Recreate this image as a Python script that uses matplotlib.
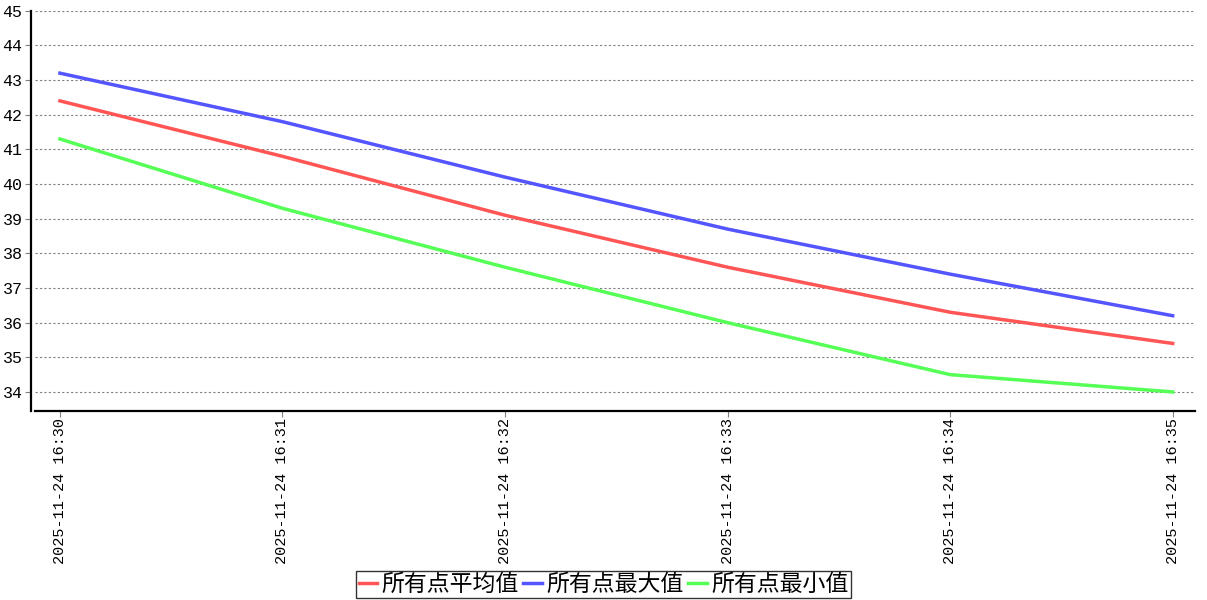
import matplotlib
matplotlib.use("Agg")
import matplotlib.pyplot as plt

plt.rcParams['font.family'] = ['Liberation Mono', 'Noto Sans CJK SC', 'DejaVu Sans']

times = ['2025-11-24 16:30', '2025-11-24 16:31', '2025-11-24 16:32',
         '2025-11-24 16:33', '2025-11-24 16:34', '2025-11-24 16:35']
avg_vals = [42.4, 40.8, 39.1, 37.6, 36.3, 35.4]
max_vals = [43.2, 41.8, 40.2, 38.7, 37.4, 36.2]
min_vals = [41.3, 39.3, 37.6, 36.0, 34.5, 34.0]
names = ['所有点平均值', '所有点最大值', '所有点最小值']
colors = ['#ff5555', '#5555ff', '#55ff55']

fig = plt.figure(figsize=(12.07, 6), dpi=100)
ax = fig.add_axes([0.029, 0.315, 0.961, 0.667])

xs = list(range(len(times)))
for vals, name, c in zip([avg_vals, max_vals, min_vals], names, colors):
    ax.plot(xs, vals, color=c, lw=2.5, label=name)

ax.set_xlim(-0.112, 5.1)
ax.set_ylim(33.45, 45)
ax.set_yticks(range(34, 46))
ax.set_xticks(xs)
ax.set_xticklabels(times, rotation=90, fontsize=11)
ax.tick_params(axis='y', labelsize=12, length=4, color='gray', pad=2)
ax.tick_params(axis='x', length=4, color='gray', pad=1)
ax.grid(axis='y', color='gray', ls=(0, (2, 2)), lw=0.8)
for s in ['top', 'right']:
    ax.spines[s].set_visible(False)
for s in ['left', 'bottom']:
    ax.spines[s].set_linewidth(1.6)
    ax.spines[s].set_color('black')
ax.spines['left'].set_position(('outward', 3))

leg = fig.legend(loc='lower center', bbox_to_anchor=(0.5, 0.003), ncol=3,
                 prop={'family': ['Noto Sans CJK SC'], 'size': 16.5},
                 frameon=True, fancybox=False, handlelength=0.8,
                 handletextpad=0.2, columnspacing=0.2, borderpad=0.1,
                 borderaxespad=0)
leg.get_frame().set_edgecolor('black')
leg.get_frame().set_linewidth(1.0)

fig.savefig('out.png', dpi=100)
